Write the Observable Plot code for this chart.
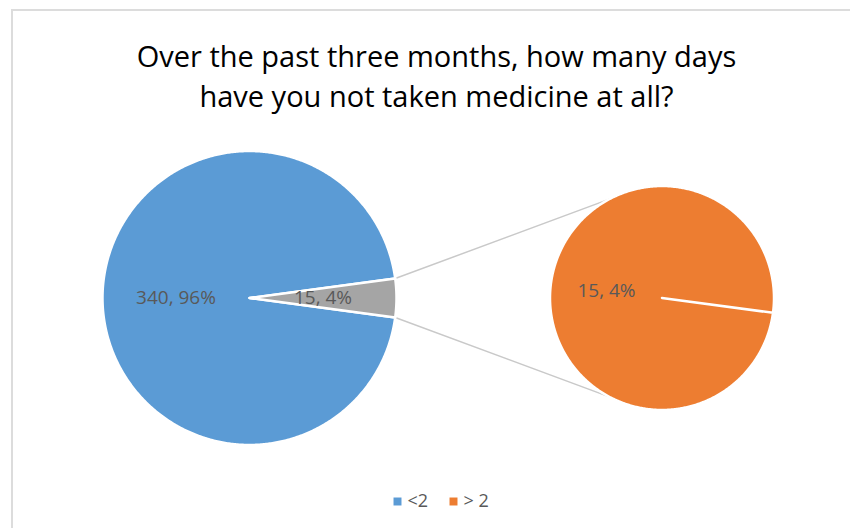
<!DOCTYPE html>
<html>
<head>
<meta charset="utf-8">
<script src="https://cdn.jsdelivr.net/npm/d3@7"></script>
<script src="https://cdn.jsdelivr.net/npm/@observablehq/plot@0.6"></script>
<style>
  html, body { margin: 0; padding: 0; background: #fff; }
  #wrap { position: relative; width: 850px; height: 528px; overflow: hidden; }
  #border { position: absolute; left: 11px; top: 9px; width: 900px; height: 600px;
            border-top: 2px solid #dcdcdc; border-left: 2px solid #dcdcdc; pointer-events: none; }
  #chart { position: absolute; left: 0; top: 0; }
</style>
</head>
<body>
<div id="wrap"><div id="chart"></div><div id="border"></div></div>
<script>
// ---- data ----
const titleLines = ["Over the past three months, how many days", "have you not taken medicine at all?"];
const mainCategories = ["<2", "Other"];
const mainValues = [340, 15];
const mainPercentLabels = ["96%", "4%"];
const secondCategories = ["> 2"];
const secondValues = [15];
const secondPercentLabels = ["4%"];
const legendLabels = ["<2", "> 2"];

// ---- styles ----
const colorOf = {"<2": "#5B9BD5", "Other": "#A5A5A5", "> 2": "#ED7D31"};
const legendColors = ["#5B9BD5", "#ED7D31"];
const font = "'Open Sans', sans-serif";
const labelColor = "#595959";

// ---- layout ----
const W = 850, H = 528;
const C1 = {x: 249, y: 297.5, r: 147};
const C2 = {x: 661.5, y: 297.5, r: 112};
const TAU = 2 * Math.PI;

const total = d3.sum(mainValues);
const otherAngle = TAU * mainValues[1] / total;
const otherStart = Math.PI / 2 - otherAngle / 2;
const mainArcs = d3.pie().sort(null)
  .startAngle(otherStart - (TAU - otherAngle))
  .endAngle(otherStart + otherAngle)(mainValues)
  .map((a, i) => ({...a, key: mainCategories[i], pct: mainPercentLabels[i], c: C1}));
const otherEnd = mainArcs[1].endAngle;
const secondArcs = d3.pie().sort(null)
  .startAngle(otherEnd).endAngle(otherEnd + TAU)(secondValues)
  .map((a, i) => ({...a, key: secondCategories[i], pct: secondPercentLabels[i], c: C2}));

const pt = (c, a, rr) => ({x: c.x + rr * Math.sin(a), y: c.y - rr * Math.cos(a)});
function slicePoints(arc) {
  const n = Math.max(2, Math.ceil((arc.endAngle - arc.startAngle) / (Math.PI / 360)));
  const pts = [{x: arc.c.x, y: arc.c.y}];
  for (let k = 0; k <= n; k++) {
    pts.push(pt(arc.c, arc.startAngle + (arc.endAngle - arc.startAngle) * k / n, arc.c.r));
  }
  pts.push({x: arc.c.x, y: arc.c.y});
  return pts;
}
const allArcs = [...mainArcs, ...secondArcs];

const labels = allArcs.map(a => {
  const p = pt(a.c, (a.startAngle + a.endAngle) / 2, a.c.r * 0.5);
  return {x: p.x, y: p.y, text: `${a.value}, ${a.pct}`};
});

// connector lines from the "Other" slice corners to the secondary pie
const connAngle = 118 * Math.PI / 180;
const cornerA = pt(C1, mainArcs[1].startAngle, C1.r);
const cornerB = pt(C1, mainArcs[1].endAngle, C1.r);
const connectors = [
  [cornerA, {x: C2.x + C2.r * Math.cos(-connAngle), y: C2.y + C2.r * Math.sin(-connAngle)}],
  [cornerB, {x: C2.x + C2.r * Math.cos(connAngle), y: C2.y + C2.r * Math.sin(connAngle)}]
];

const legendX = [397, 453];
const legendY = 501;

const chart = Plot.plot({
  width: W, height: H,
  margin: 0,
  style: {background: "transparent", fontFamily: font},
  x: {domain: [0, W], range: [0, W], axis: null},
  y: {domain: [0, H], range: [0, H], axis: null},
  marks: [
    ...connectors.map(seg => Plot.line(seg, {x: "x", y: "y", stroke: "#c9c9c9", strokeWidth: 1.5})),
    ...allArcs.map(a => Plot.line(slicePoints(a), {
      x: "x", y: "y", fill: colorOf[a.key], stroke: "white", strokeWidth: 2.5, strokeLinejoin: "round"
    })),
    Plot.text(labels, {x: "x", y: "y", text: "text", fill: labelColor, fontSize: 19, fontFamily: font}),
    Plot.text(titleLines, {
      x: () => 436, y: (d, i) => 66 + i * 40, text: d => d,
      fontSize: 29, fill: "#000", lineAnchor: "bottom", fontFamily: font
    }),
    Plot.dot(legendLabels, {
      x: (d, i) => legendX[i], y: () => legendY, symbol: "square", r: 4.5,
      fill: (d, i) => legendColors[i], stroke: null
    }),
    Plot.text(legendLabels, {
      x: (d, i) => legendX[i] + 10, y: () => legendY, text: d => d, textAnchor: "start",
      fill: labelColor, fontSize: 18, fontFamily: font
    })
  ]
});
document.getElementById("chart").appendChild(chart);
</script>
</body>
</html>
